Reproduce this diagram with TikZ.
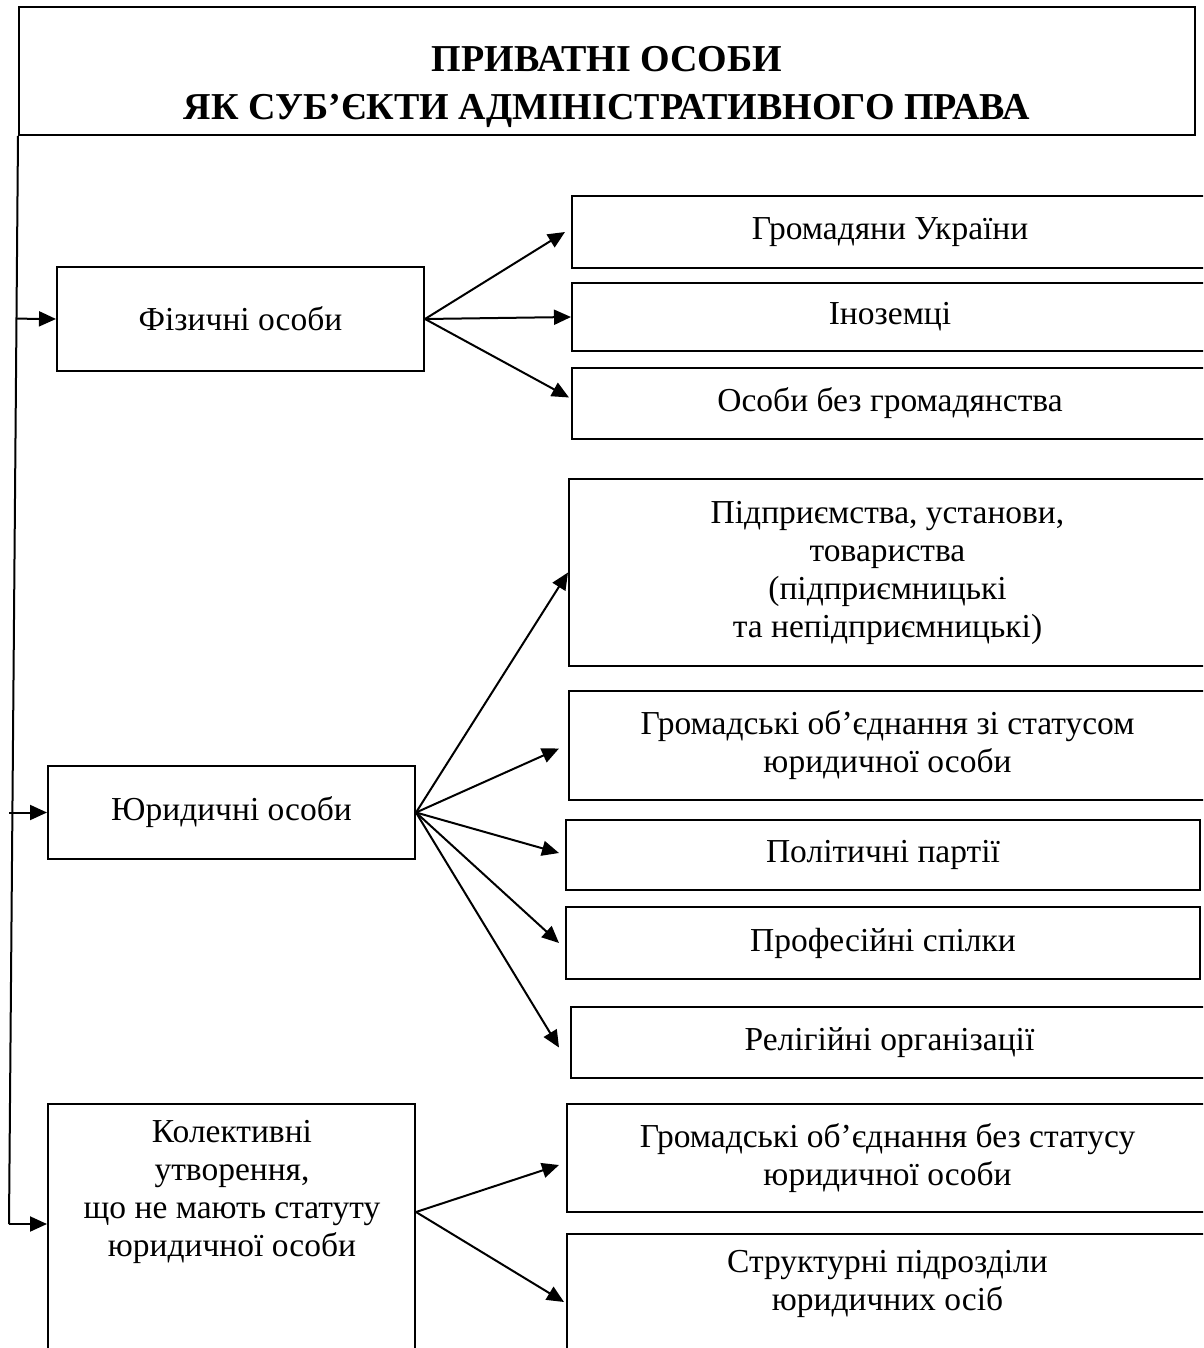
\documentclass[tikz,border=0pt]{standalone}
\usepackage{fontspec}
\setmainfont{Liberation Serif}
\usetikzlibrary{arrows.meta,calc}
\begin{document}
\begin{tikzpicture}[x=1pt,y=-1pt,
  box/.style={draw,line width=2pt,rectangle,inner sep=0pt,align=center,
    font=\fontsize{33.5}{38}\selectfont},
  lbl/.style={inner sep=0pt,align=center,font=\fontsize{33.5}{38}\selectfont},
  ttl/.style={inner sep=0pt,align=center,font=\fontsize{38}{48}\selectfont\bfseries},
  arr/.style={line width=2pt,-{Triangle[length=17pt,width=15pt]}},
  ln/.style={line width=2pt}]
\useasboundingbox (0,0) rectangle (1203,1348);
\clip (0,0) rectangle (1203,1348);

% title
\node[box,minimum width=1176,minimum height=128] (t) at (607,71) {};
\node[ttl] (tt) at (607,87) {ПРИВАТНІ ОСОБИ\\ЯК СУБ’ЄКТИ АДМІНІСТРАТИВНОГО ПРАВА};

% left column
\node[box,minimum width=367,minimum height=104] (fiz) at (240.5,319) {Фізичні особи};
\node[box,minimum width=367,minimum height=93] (yur) at (231.5,812.5) {Юридичні особи};
\node[box,minimum width=367,minimum height=266] (kol) at (231.5,1237) {};
\node[lbl] (kolt) at (232,1191.5) {Колективні\\утворення,\\що не мають статуту\\юридичної особи};

% right column
\node[box,minimum width=636,minimum height=72] (b1) at (890,232) {Громадяни України};
\node[box,minimum width=636,minimum height=68] (b2) at (890,317) {Іноземці};
\node[box,minimum width=636,minimum height=71] (b3) at (890,403.5) {Особи без громадянства};
\node[box,minimum width=637,minimum height=187] (b4) at (887.5,572.5)
  {Підприємства, установи,\\товариства\\(підприємницькі\\та непідприємницькі)};
\node[box,minimum width=637,minimum height=109] (b5) at (887.5,745.5)
  {Громадські об’єднання зі статусом\\юридичної особи};
\node[box,minimum width=634,minimum height=70] (b6) at (883,855) {Політичні партії};
\node[box,minimum width=634,minimum height=72] (b7) at (883,943) {Професійні спілки};
\node[box,minimum width=637,minimum height=71] (b8) at (889.5,1042.5) {Релігійні організації};
\node[box,minimum width=641,minimum height=108] (b9) at (887.5,1158)
  {Громадські об’єднання без статусу\\юридичної особи};
\node[box,minimum width=641,minimum height=146] (b10) at (887.5,1307) {};
\node[lbl] (b10t) at (887.5,1284) {Структурні підрозділи\\юридичних осіб};

% trunk line from the title
\coordinate (vb) at (9,1224);
\draw[ln] (t.south west) -- (vb);
\draw[arr] ($(t.south west)!(fiz.west)!(vb)$) -- (fiz.west);
\draw[arr] (vb |- yur.west) -- (yur.west);
\draw[arr] (vb) -- (vb -| kol.west);

% natural persons
\draw[arr] (fiz.east) -- ([xshift=-6pt]b1.west);
\draw[arr] (fiz.east) -- (b2.west);
\draw[arr] (fiz.east) -- ([xshift=-2pt,yshift=6pt]b3.west);

% legal persons
\draw[arr] (yur.east) -- (b4.west);
\draw[arr] (yur.east) -- ([xshift=-9pt,yshift=-3pt]b5.west);
\draw[arr] (yur.east) -- ([xshift=-6pt,yshift=2pt]b6.west);
\draw[arr] (yur.east) -- ([xshift=-6pt]b7.west);
\draw[arr] (yur.east) -- ([xshift=-11pt,yshift=-5pt]b8.west);

% collective formations
\coordinate (ko) at ([yshift=25pt]kol.east);
\draw[arr] (ko) -- ([xshift=-7pt,yshift=-7pt]b9.west);
\draw[arr] (ko) -- ([xshift=-2pt,yshift=5pt]b10.west);
\end{tikzpicture}
\end{document}
